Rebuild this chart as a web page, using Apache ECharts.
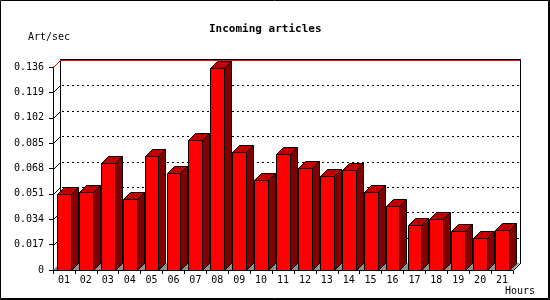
<!DOCTYPE html>
<html>
<head>
<meta charset="utf-8">
<script src="https://cdn.jsdelivr.net/npm/echarts@6/dist/echarts.min.js"></script>
<style>html,body{margin:0;padding:0;background:#fff}#c{width:550px;height:300px}</style>
</head>
<body>
<div id="c"></div>
<script>
var hours = ['01','02','03','04','05','06','07','08','09','10','11','12','13','14','15','16','17','18','19','20','21'];
var artPerSec = [0.0509,0.0523,0.0715,0.0474,0.0762,0.0648,0.0871,0.1351,0.0788,0.0601,0.0775,0.0681,0.0628,0.0668,0.0521,0.0427,0.0299,0.0340,0.0259,0.0212,0.0266];
var yTicks = [0.017,0.034,0.051,0.068,0.085,0.102,0.119];
var yMax = 0.136, yStep = 0.017;
var titleText = 'Incoming articles';
var yName = 'Art/sec';
var xName = 'Hours';

var D = 7; // depth offset (style)
var MONO = '"DejaVu Sans Mono", "Liberation Mono", monospace';
function px(v){ return Math.round(v) + 0.5; }

var chart = echarts.init(document.getElementById('c'), null, {renderer:'canvas'});

function renderBack(params, api){
  var p0 = api.coord([0, 0]);
  var n = hours.length;
  var w = api.size([1, 0])[0];
  var x0 = Math.round(p0[0] - w/2), x1 = Math.round(p0[0] + (n - 0.5) * w);
  var y0 = Math.round(api.coord([0, 0])[1]);
  var yT = Math.round(api.coord([0, yMax])[1]);
  var ch = [];
  ch.push({type:'polygon', shape:{points:[[x0,y0],[x1,y0],[x1+D,y0-D],[x0+D,y0-D]]},
    style:{fill:'#8f8f8f', stroke:null}});
  yTicks.forEach(function(v){
    var y = Math.round(api.coord([0, v])[1]);
    ch.push({type:'line', shape:{x1:x0+D+2, y1:px(y-D), x2:x1+D, y2:px(y-D)},
      style:{stroke:'#000', lineWidth:1, lineDash:[2,3]}});
    ch.push({type:'line', shape:{x1:x0+0.5, y1:y+0.5, x2:x0+D+0.5, y2:y-D+0.5},
      style:{stroke:'#000', lineWidth:1}});
  });
  ch.push({type:'line', shape:{x1:px(x0+D), y1:yT-D, x2:px(x0+D), y2:y0-D}, style:{stroke:'#000', lineWidth:1}});
  ch.push({type:'line', shape:{x1:px(x1+D), y1:yT-D, x2:px(x1+D), y2:y0-D+1}, style:{stroke:'#000', lineWidth:1}});
  ch.push({type:'line', shape:{x1:x0+D, y1:px(yT-D-1), x2:x1+D+1, y2:px(yT-D-1)}, style:{stroke:'#000', lineWidth:1}});
  ch.push({type:'line', shape:{x1:x0+D, y1:px(yT-D), x2:x1+D, y2:px(yT-D)}, style:{stroke:'#ff0000', lineWidth:1}});
  ch.push({type:'line', shape:{x1:x0+0.5, y1:yT+0.5, x2:x0+D+0.5, y2:yT-D+0.5}, style:{stroke:'#ff0000', lineWidth:1}});
  ch.push({type:'line', shape:{x1:x1+0.5, y1:y0+0.5, x2:x1+D+0.5, y2:y0-D+0.5}, style:{stroke:'#000', lineWidth:1}});
  return {type:'group', children:ch};
}

function renderBar(params, api){
  var idx = api.value(0), v = api.value(1);
  var top = api.coord([idx, v]);
  var base = api.coord([idx, 0]);
  var w = api.size([1, 0])[0] * 0.63;
  var l = Math.round(top[0] - w/2) + 0.5, r = Math.round(top[0] + w/2) + 0.5;
  var t = Math.round(top[1]) + 0.5, b = Math.round(base[1]) + 0.5;
  var st = {stroke:'#000', lineWidth:1};
  return {type:'group', children:[
    {type:'polygon', shape:{points:[[r,t],[r+D,t-D],[r+D,b-D],[r,b]]}, style:Object.assign({fill:'#800000'}, st)},
    {type:'polygon', shape:{points:[[l,t],[l+D,t-D],[r+D,t-D],[r,t]]}, style:Object.assign({fill:'#c00000'}, st)},
    {type:'rect', shape:{x:l, y:t, width:r-l, height:b-t}, style:Object.assign({fill:'#ff0000'}, st)}
  ]};
}

var option = {
  animation:false,
  backgroundColor:'#fff',
  title:{text:titleText, left:204, top:19,
    textStyle:{fontFamily:MONO, fontWeight:'bold', fontSize:11, color:'#000'}},
  grid:{left:53, right:37, top:67, bottom:30, containLabel:false},
  xAxis:{type:'category', data:hours, boundaryGap:true,
    axisLine:{show:true, lineStyle:{color:'#000', width:1}},
    axisTick:{show:true, length:4, alignWithLabel:false, lineStyle:{color:'#000'}},
    axisLabel:{color:'#000', fontFamily:MONO, fontSize:10, margin:5, interval:0},
    splitLine:{show:false}},
  yAxis:{type:'value', min:0, max:yMax, interval:yStep,
    axisLine:{show:true, lineStyle:{color:'#000', width:1}},
    axisTick:{show:true, length:4, lineStyle:{color:'#000'}},
    axisLabel:{color:'#000', fontFamily:MONO, fontSize:10, margin:9,
      formatter:function(v){ return v === 0 ? '0' : v.toFixed(3); }},
    splitLine:{show:false}},
  graphic:[
    {type:'text', left:28, top:32, style:{text:yName, fontFamily:MONO, fontSize:10, fill:'#000'}},
    {type:'text', left:505, top:286, style:{text:xName, fontFamily:MONO, fontSize:10, fill:'#000'}},
    {type:'rect', shape:{x:0.5, y:0.5, width:548, height:298}, style:{fill:null, stroke:'#000', lineWidth:1}, z:100},
    {type:'line', shape:{x1:549.5, y1:0, x2:549.5, y2:300}, style:{stroke:'#000', lineWidth:1}, z:100},
    {type:'line', shape:{x1:0, y1:299.5, x2:550, y2:299.5}, style:{stroke:'#000', lineWidth:1}, z:100}
  ],
  series:[
    {type:'custom', renderItem:renderBack, data:[[0,0]], z:1, silent:true, clip:false},
    {type:'custom', renderItem:renderBar, data:artPerSec.map(function(v,i){return [i,v];}), z:2, clip:false}
  ]
};
chart.setOption(option);
</script>
</body>
</html>
